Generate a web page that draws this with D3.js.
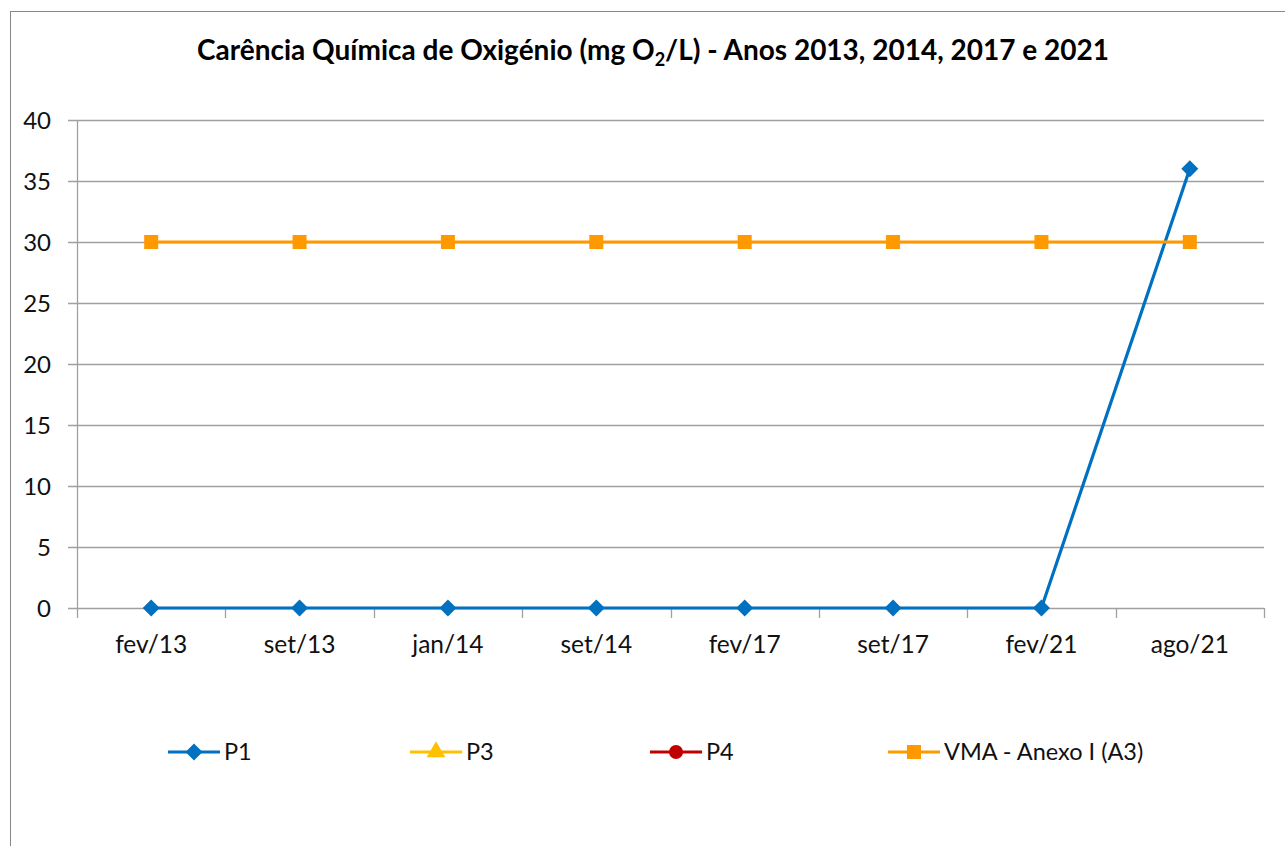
<!DOCTYPE html>
<html>
<head>
<meta charset="UTF-8"/>
<script src="https://d3js.org/d3.v7.min.js"></script>
<style>
body { margin: 0; background: #fff; }
svg { font-family: Lato, 'Open Sans', sans-serif; }
</style>
</head>
<body>
<svg id='big' width=1285 height=846></svg>
<script>
'use strict';

// data
var months = ['fev/13', 'set/13', 'jan/14', 'set/14', 'fev/17', 'set/17', 'fev/21', 'ago/21'];
var p1  = [0, 0, 0, 0, 0, 0, 0, 36];
var p3  = [null, null, null, null, null, null, null, null];
var p4  = [null, null, null, null, null, null, null, null];
var vma = [30, 30, 30, 30, 30, 30, 30, 30];
var yTicks = [0, 5, 10, 15, 20, 25, 30, 35, 40];

var series = [
	{name: 'P1', values: p1, color: '#0070C0', shape: 'diamond', lx: 168},
	{name: 'P3', values: p3, color: '#FFC000', shape: 'triangle', lx: 410},
	{name: 'P4', values: p4, color: '#C00000', shape: 'circle', lx: 650},
	{name: 'VMA - Anexo I (A3)', values: vma, color: '#FF9900', shape: 'square', lx: 888}
];

var svg = d3.select('#big');

// outer frame
svg.append('rect')
	.attr('x', 10.5).attr('y', 11.5)
	.attr('width', 1300).attr('height', 900)
	.attr('fill', 'none').attr('stroke', '#888').attr('stroke-width', 1);

var pLeft = 77, pRight = 1264, pTop = 120, pBottom = 608;

var sx = d3.scaleBand().domain(months).range([pLeft, pRight]);
var sy = d3.scaleLinear().domain([0, 40]).range([pBottom, pTop]);

// gridlines
svg.selectAll('.grid')
	.data(yTicks)
	.enter()
	.append('line')
	.attr('class', 'grid')
	.attr('x1', pLeft - 9).attr('x2', pRight)
	.attr('y1', function(d){ return Math.round(sy(d)) + 0.5; })
	.attr('y2', function(d){ return Math.round(sy(d)) + 0.5; })
	.attr('stroke', '#a0a0a0').attr('stroke-width', 1.3);

// y axis line
svg.append('line')
	.attr('x1', pLeft + 0.5).attr('x2', pLeft + 0.5)
	.attr('y1', pTop).attr('y2', pBottom + 1)
	.attr('stroke', '#a0a0a0').attr('stroke-width', 1.3);

// y labels
svg.selectAll('.ylab')
	.data(yTicks)
	.enter()
	.append('text')
	.attr('class', 'ylab')
	.attr('x', 51)
	.attr('y', function(d){ return sy(d); })
	.attr('dy', '0.36em')
	.attr('text-anchor', 'end')
	.attr('font-size', 24)
	.attr('fill', '#111')
	.text(function(d){ return d; });

// x tick marks at band boundaries
var bounds = months.map(function(m){ return sx(m); }).concat([pRight]);
svg.selectAll('.xtick')
	.data(bounds)
	.enter()
	.append('line')
	.attr('x1', function(d){ return Math.round(d) + 0.5; })
	.attr('x2', function(d){ return Math.round(d) + 0.5; })
	.attr('y1', pBottom).attr('y2', pBottom + 10)
	.attr('stroke', '#a0a0a0').attr('stroke-width', 1.3);

// x labels
svg.selectAll('.xlab')
	.data(months)
	.enter()
	.append('text')
	.attr('x', function(d){ return sx(d) + sx.bandwidth() / 2; })
	.attr('y', 653)
	.attr('text-anchor', 'middle')
	.attr('font-size', 24.5)
	.attr('fill', '#111')
	.text(function(d){ return d; });

// title
var title = svg.append('text')
	.attr('x', 653).attr('y', 60)
	.attr('text-anchor', 'middle')
	.attr('font-size', 28)
	.attr('font-weight', 'bold')
	.attr('fill', '#000');
title.append('tspan').text('Carência Química de Oxigénio (mg O');
title.append('tspan').attr('font-size', 18).attr('dy', 6).text('2');
title.append('tspan').attr('dy', -6).text('/L) - Anos 2013, 2014, 2017 e 2021');

// markers
function marker(sel, shape){
	if (shape === 'diamond') {
		sel.append('rect').attr('x', -6).attr('y', -6).attr('width', 12).attr('height', 12)
			.attr('transform', 'rotate(45)');
	} else if (shape === 'square') {
		sel.append('rect').attr('x', -7).attr('y', -7).attr('width', 14).attr('height', 14);
	} else if (shape === 'circle') {
		sel.append('circle').attr('r', 7);
	} else {
		sel.append('path').attr('d', d3.symbol().type(d3.symbolTriangle).size(150));
	}
}

var line = d3.line()
	.defined(function(d){ return d != null; })
	.x(function(d, i){ return sx(months[i]) + sx.bandwidth() / 2; })
	.y(function(d){ return sy(d); });

series.forEach(function(s){
	svg.append('path')
		.attr('d', line(s.values))
		.attr('fill', 'none')
		.attr('stroke', s.color)
		.attr('stroke-width', 3.2);
	svg.selectAll(null)
		.data(s.values.map(function(v, i){ return {v: v, i: i}; }).filter(function(d){ return d.v != null; }))
		.enter()
		.append('g')
		.attr('fill', s.color)
		.attr('transform', function(d){
			return 'translate(' + (sx(months[d.i]) + sx.bandwidth() / 2) + ',' + sy(d.v) + ')';
		})
		.each(function(){ marker(d3.select(this), s.shape); });
});

// legend
var ly = 752;
series.forEach(function(s){
	svg.append('line')
		.attr('x1', s.lx).attr('x2', s.lx + 52)
		.attr('y1', ly).attr('y2', ly)
		.attr('stroke', s.color).attr('stroke-width', 3.2);
	var g = svg.append('g')
		.attr('fill', s.color)
		.attr('transform', 'translate(' + (s.lx + 26) + ',' + ly + ')');
	marker(g, s.shape);
	svg.append('text')
		.attr('x', s.lx + 56).attr('y', ly)
		.attr('dy', '0.36em')
		.attr('font-size', 23.5)
		.attr('fill', '#111')
		.text(s.name);
});
</script>
</body>
</html>
